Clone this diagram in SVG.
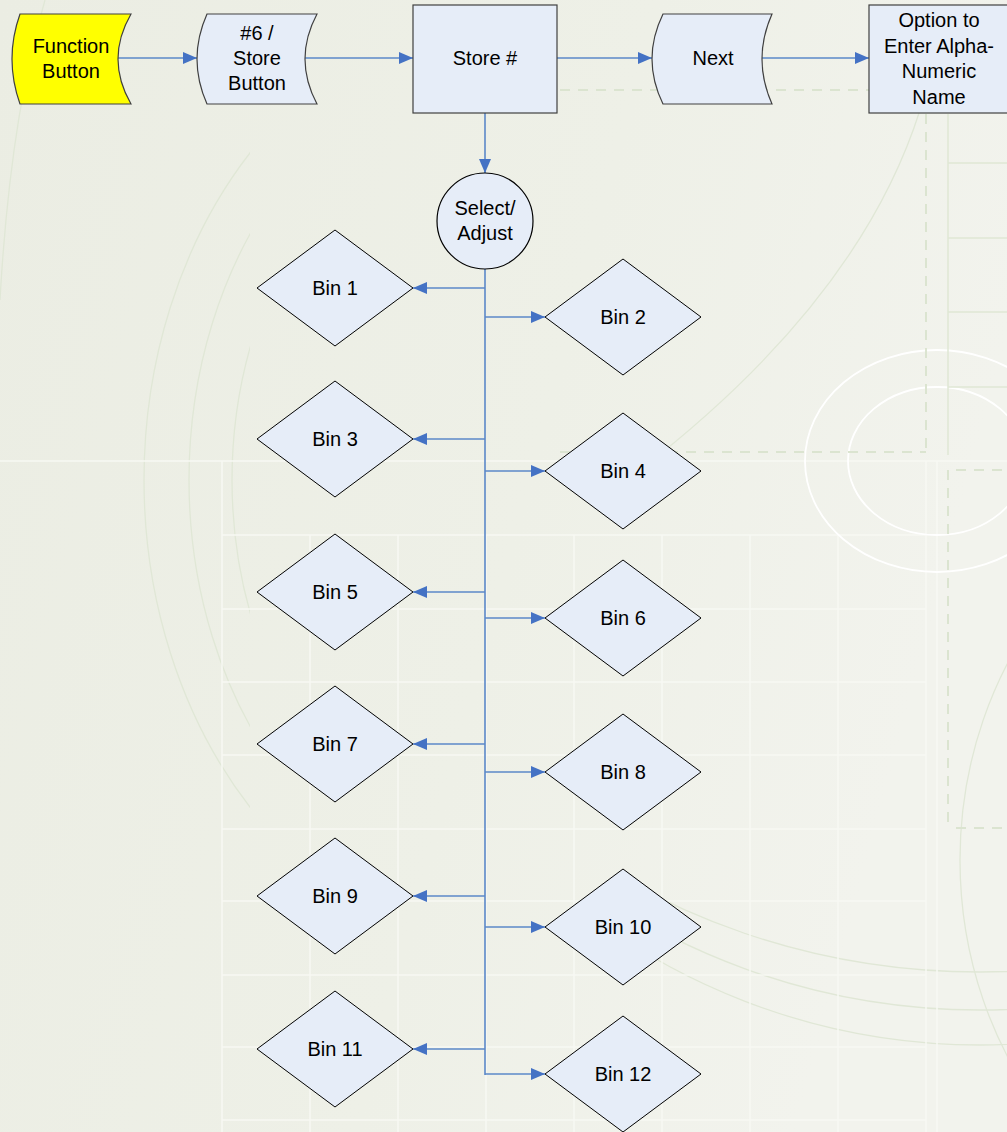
<svg xmlns="http://www.w3.org/2000/svg" width="1007" height="1132" viewBox="0 0 1007 1132">
  <defs>
    <linearGradient id="bg" x1="0" y1="0" x2="1" y2="0.3">
      <stop offset="0" stop-color="#ebede3"/>
      <stop offset="0.6" stop-color="#eef0e7"/>
      <stop offset="1" stop-color="#f2f3ed"/>
    </linearGradient>
    <clipPath id="leftClip"><rect x="0" y="0" width="250" height="1132"/></clipPath>
    <clipPath id="botClip"><rect x="600" y="880" width="407" height="252"/></clipPath>
    <clipPath id="rightClip"><rect x="940" y="560" width="67" height="572"/></clipPath>
    <marker id="arr" viewBox="0 0 14 12" refX="14" refY="6" markerWidth="14" markerHeight="12" markerUnits="userSpaceOnUse" orient="auto">
      <path d="M0,0 L14,6 L0,12 Z" fill="#4472c4"/>
    </marker>
    <style>
      .lbl { font-family: "Liberation Sans", Arial, sans-serif; font-size: 20px; fill: #000; text-anchor: middle; }
      .box { fill: #e6edf8; stroke: #404040; stroke-width: 1.2; }
      .dia { fill: #e6edf8; stroke: #000; stroke-width: 1; }
      .con { fill: none; stroke: #5b88c8; stroke-width: 1.6; }
      .grid { stroke: #f7f8f3; stroke-width: 1.5; fill: none; }
      .arc { stroke: #e0e7d6; stroke-width: 1.3; fill: none; }
      .dash { stroke: #dbe4d0; stroke-width: 2; stroke-dasharray: 10 8; fill: none; }
    </style>
  </defs>

  <!-- background -->
  <g id="background">
    <rect x="0" y="0" width="1007" height="1132" fill="url(#bg)"/>
    <g clip-path="url(#leftClip)">
      <ellipse class="arc" cx="520" cy="480" rx="376" ry="470"/>
      <ellipse class="arc" cx="520" cy="480" rx="331" ry="425"/>
      <ellipse class="arc" cx="520" cy="480" rx="288" ry="380"/>
    </g>
    <g clip-path="url(#botClip)">
      <ellipse class="arc" cx="980" cy="420" rx="640" ry="552"/>
      <ellipse class="arc" cx="980" cy="420" rx="640" ry="590"/>
      <ellipse class="arc" cx="980" cy="420" rx="640" ry="625"/>
    </g>
    <g clip-path="url(#rightClip)">
      <ellipse class="arc" cx="1290" cy="860" rx="330" ry="380"/>
    </g>
    <path class="arc" d="M920,110 Q860,300 640,470"/>
    <path class="arc" d="M0,300 Q10,120 45,0"/>
    <line class="grid" x1="0" y1="461" x2="1007" y2="461"/>
    <g class="grid">
      <line x1="222" y1="535" x2="926" y2="535"/>
      <line x1="222" y1="609" x2="926" y2="609"/>
      <line x1="222" y1="682" x2="926" y2="682"/>
      <line x1="222" y1="755" x2="926" y2="755"/>
      <line x1="222" y1="829" x2="926" y2="829"/>
      <line x1="222" y1="901" x2="926" y2="901"/>
      <line x1="222" y1="975" x2="926" y2="975"/>
      <line x1="222" y1="1047" x2="926" y2="1047"/>
      <line x1="222" y1="1120" x2="926" y2="1120"/>
      <line x1="222" y1="461" x2="222" y2="1132"/>
      <line x1="310" y1="535" x2="310" y2="1132"/>
      <line x1="398" y1="535" x2="398" y2="1132"/>
      <line x1="486" y1="535" x2="486" y2="1132"/>
      <line x1="574" y1="535" x2="574" y2="1132"/>
      <line x1="662" y1="535" x2="662" y2="1132"/>
      <line x1="750" y1="535" x2="750" y2="1132"/>
      <line x1="838" y1="535" x2="838" y2="1132"/>
      <line x1="926" y1="461" x2="926" y2="1132"/>
      <line x1="937" y1="461" x2="937" y2="1132"/>
    </g>
    <ellipse cx="937" cy="461" rx="132" ry="111" fill="none" stroke="#ffffff" stroke-width="1.8"/>
    <ellipse cx="937" cy="461" rx="89" ry="74" fill="none" stroke="#ffffff" stroke-width="1.8"/>
    <line class="dash" x1="560" y1="90" x2="869" y2="90"/>
    <line class="dash" x1="926" y1="114" x2="926" y2="452"/>
    <line class="dash" x1="560" y1="452" x2="926" y2="452"/>
    <line class="dash" x1="948" y1="470" x2="948" y2="828"/>
    <line class="dash" x1="956" y1="470" x2="1007" y2="470"/>
    <line class="dash" x1="956" y1="828" x2="1007" y2="828"/>
    <g stroke="#dfe7d4" stroke-width="1.5" fill="none">
      <line x1="948" y1="114" x2="948" y2="455"/>
      <line x1="948" y1="163" x2="1007" y2="163"/>
      <line x1="948" y1="238" x2="1007" y2="238"/>
      <line x1="948" y1="312" x2="1007" y2="312"/>
      <line x1="948" y1="387" x2="1007" y2="387"/>
    </g>
  </g>

  <!-- connectors -->
  <g id="connectors">
    <line class="con" x1="118" y1="58" x2="197" y2="58" marker-end="url(#arr)"/>
    <line class="con" x1="305" y1="58" x2="413" y2="58" marker-end="url(#arr)"/>
    <line class="con" x1="557" y1="58" x2="652" y2="58" marker-end="url(#arr)"/>
    <line class="con" x1="762" y1="58" x2="869" y2="58" marker-end="url(#arr)"/>
    <line class="con" x1="485" y1="113" x2="485" y2="173" marker-end="url(#arr)"/>
    <line class="con" x1="485" y1="269" x2="485" y2="1075" stroke="#4a7bc4" stroke-width="2"/>
    <line class="con" x1="485" y1="288" x2="413" y2="288" marker-end="url(#arr)"/>
    <line class="con" x1="485" y1="439" x2="413" y2="439" marker-end="url(#arr)"/>
    <line class="con" x1="485" y1="592" x2="413" y2="592" marker-end="url(#arr)"/>
    <line class="con" x1="485" y1="744" x2="413" y2="744" marker-end="url(#arr)"/>
    <line class="con" x1="485" y1="896" x2="413" y2="896" marker-end="url(#arr)"/>
    <line class="con" x1="485" y1="1049" x2="413" y2="1049" marker-end="url(#arr)"/>
    <line class="con" x1="485" y1="317" x2="545" y2="317" marker-end="url(#arr)"/>
    <line class="con" x1="485" y1="471" x2="545" y2="471" marker-end="url(#arr)"/>
    <line class="con" x1="485" y1="618" x2="545" y2="618" marker-end="url(#arr)"/>
    <line class="con" x1="485" y1="772" x2="545" y2="772" marker-end="url(#arr)"/>
    <line class="con" x1="485" y1="927" x2="545" y2="927" marker-end="url(#arr)"/>
    <line class="con" x1="485" y1="1074" x2="545" y2="1074" marker-end="url(#arr)"/>
  </g>

  <!-- top row -->
  <g id="function-button">
    <path d="M20,14 L131,14 Q105,59 131,104 L20,104 Q4,59 20,14 Z" fill="#ffff00" stroke="#404040" stroke-width="1.2"/>
    <text class="lbl" x="71" y="53">Function</text>
    <text class="lbl" x="71" y="78">Button</text>
  </g>
  <g id="store-button">
    <path class="box" d="M207,14 L317,14 Q293,59 317,104 L207,104 Q187,59 207,14 Z"/>
    <text class="lbl" x="257" y="40">#6 /</text>
    <text class="lbl" x="257" y="65">Store</text>
    <text class="lbl" x="257" y="90">Button</text>
  </g>
  <g id="store-num">
    <rect class="box" x="413" y="5" width="144" height="108"/>
    <text class="lbl" x="485" y="65">Store #</text>
  </g>
  <g id="next">
    <path class="box" d="M663,14 L772,14 Q752,59 772,104 L663,104 Q641,59 663,14 Z"/>
    <text class="lbl" x="713" y="65">Next</text>
  </g>
  <g id="option">
    <rect class="box" x="869" y="5" width="140" height="108"/>
    <text class="lbl" x="939" y="27">Option to</text>
    <text class="lbl" x="939" y="53">Enter Alpha-</text>
    <text class="lbl" x="939" y="78">Numeric</text>
    <text class="lbl" x="939" y="104">Name</text>
  </g>
  <g id="select-adjust">
    <circle cx="485" cy="221" r="48" fill="#e6edf8" stroke="#000" stroke-width="1.2"/>
    <text class="lbl" x="485" y="215">Select/</text>
    <text class="lbl" x="485" y="240">Adjust</text>
  </g>

  <!-- bins -->
  <g id="bin1"><path class="dia" d="M257,288 L335,230 L413,288 L335,346 Z"/><text class="lbl" x="335" y="295">Bin 1</text></g>
  <g id="bin2"><path class="dia" d="M545,317 L623,259 L701,317 L623,375 Z"/><text class="lbl" x="623" y="324">Bin 2</text></g>
  <g id="bin3"><path class="dia" d="M257,439 L335,381 L413,439 L335,497 Z"/><text class="lbl" x="335" y="446">Bin 3</text></g>
  <g id="bin4"><path class="dia" d="M545,471 L623,413 L701,471 L623,529 Z"/><text class="lbl" x="623" y="478">Bin 4</text></g>
  <g id="bin5"><path class="dia" d="M257,592 L335,534 L413,592 L335,650 Z"/><text class="lbl" x="335" y="599">Bin 5</text></g>
  <g id="bin6"><path class="dia" d="M545,618 L623,560 L701,618 L623,676 Z"/><text class="lbl" x="623" y="625">Bin 6</text></g>
  <g id="bin7"><path class="dia" d="M257,744 L335,686 L413,744 L335,802 Z"/><text class="lbl" x="335" y="751">Bin 7</text></g>
  <g id="bin8"><path class="dia" d="M545,772 L623,714 L701,772 L623,830 Z"/><text class="lbl" x="623" y="779">Bin 8</text></g>
  <g id="bin9"><path class="dia" d="M257,896 L335,838 L413,896 L335,954 Z"/><text class="lbl" x="335" y="903">Bin 9</text></g>
  <g id="bin10"><path class="dia" d="M545,927 L623,869 L701,927 L623,985 Z"/><text class="lbl" x="623" y="934">Bin 10</text></g>
  <g id="bin11"><path class="dia" d="M257,1049 L335,991 L413,1049 L335,1107 Z"/><text class="lbl" x="335" y="1056">Bin 11</text></g>
  <g id="bin12"><path class="dia" d="M545,1074 L623,1016 L701,1074 L623,1132 Z"/><text class="lbl" x="623" y="1081">Bin 12</text></g>
</svg>
